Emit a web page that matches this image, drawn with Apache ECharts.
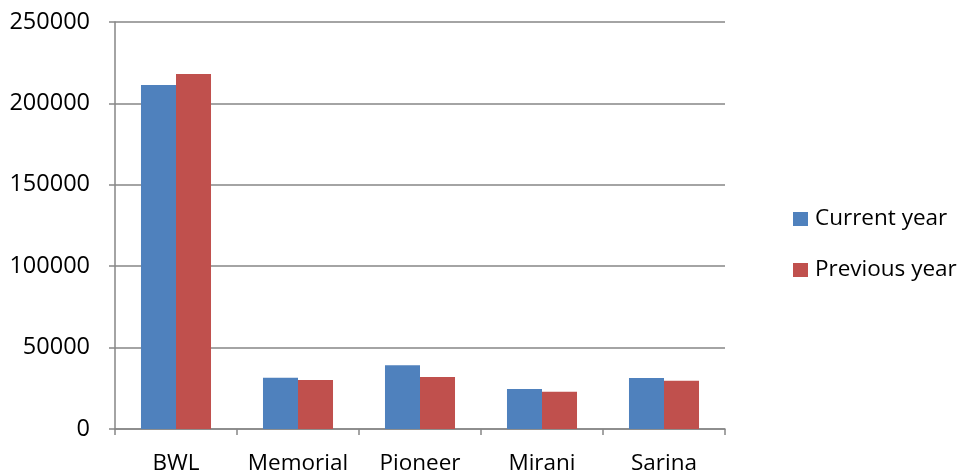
<!DOCTYPE html>
<html>
<head>
<meta charset="utf-8">
<script src="https://cdn.jsdelivr.net/npm/echarts@6/dist/echarts.min.js"></script>
<style>
  html, body { margin: 0; padding: 0; background: #fff; }
  #chart { width: 962px; height: 475px; }
</style>
</head>
<body>
<div id="chart"></div>
<script>
// Hospitals compared across two years
const categories = ['BWL', 'Memorial', 'Pioneer', 'Mirani', 'Sarina'];
const currentYear = [211300, 31500, 39100, 24600, 31300];
const previousYear = [218100, 30100, 31900, 22900, 29700];
const yTicks = [0, 50000, 100000, 150000, 200000, 250000];

const FONT = 'Open Sans';
const AXIS_GREY = '#868686';

const chart = echarts.init(document.getElementById('chart'), null, { renderer: 'canvas' });
chart.setOption({
  animation: false,
  textStyle: { fontFamily: FONT },
  grid: { left: 115, right: 237, top: 22, bottom: 46, containLabel: false },
  legend: {
    orient: 'vertical',
    left: 793,
    top: 207,
    padding: 0,
    itemWidth: 15,
    itemHeight: 14,
    itemGap: 27,
    icon: 'rect',
    textStyle: { fontFamily: FONT, fontSize: 22.5, lineHeight: 24, color: '#000', padding: [0, 0, 0, 2] },
    data: ['Current year', 'Previous year']
  },
  xAxis: {
    type: 'category',
    data: categories,
    axisLine: { lineStyle: { color: AXIS_GREY, width: 1.5 } },
    axisTick: { show: true, interval: 0, length: 6, alignWithLabel: false, lineStyle: { color: AXIS_GREY, width: 1.5 } },
    axisLabel: { interval: 0, color: '#000', fontSize: 22.5, margin: 23, fontFamily: FONT }
  },
  yAxis: {
    type: 'value',
    min: yTicks[0],
    max: yTicks[yTicks.length - 1],
    interval: yTicks[1] - yTicks[0],
    axisLine: { show: true, lineStyle: { color: AXIS_GREY, width: 1.5 } },
    axisTick: { show: true, length: 6, lineStyle: { color: AXIS_GREY, width: 1.5 } },
    axisLabel: { color: '#000', fontSize: 23.5, margin: 25, fontFamily: FONT, formatter: v => String(v) },
    splitLine: { show: true, lineStyle: { color: AXIS_GREY, width: 1.5 } }
  },
  series: [
    {
      name: 'Current year',
      type: 'bar',
      data: currentYear,
      barGap: '0%',
      barCategoryGap: '42.6%',
      itemStyle: { color: '#4F81BD' }
    },
    {
      name: 'Previous year',
      type: 'bar',
      data: previousYear,
      barGap: '0%',
      barCategoryGap: '42.6%',
      itemStyle: { color: '#C0504D' }
    }
  ]
});
</script>
</body>
</html>
